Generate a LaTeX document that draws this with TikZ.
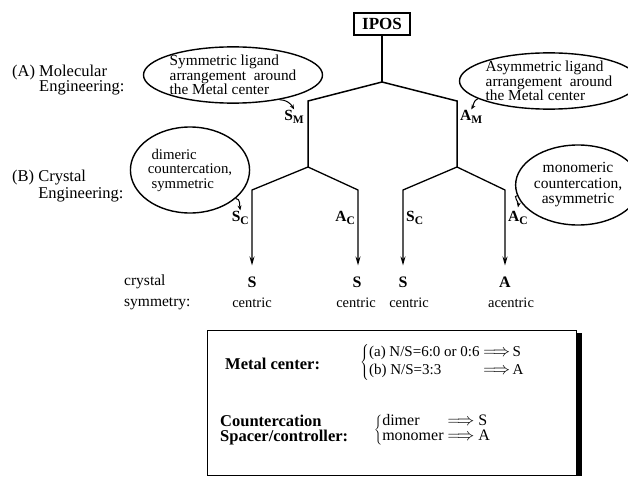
\documentclass[tikz,border=0pt]{standalone}
\usepackage{fontspec}
\setmainfont{Liberation Serif}
\usetikzlibrary{positioning,arrows.meta,shapes.geometric,calc}

\newcommand{\brlab}[2]{#1\raisebox{-0.35ex}{\fontsize{11.5}{11.5}\selectfont #2}}
\newcommand{\impl}{\mbox{\fontsize{17}{17}\selectfont$\Longrightarrow$}}

\begin{document}
\begin{tikzpicture}[x=1pt,y=-1pt,
    br/.style={line width=1.5pt, line join=miter},
    tr/.style={-{Stealth[length=9pt,width=5pt]}, line width=1.3pt, shorten >=1pt},
    cv/.style={-{Stealth[length=5pt,width=4pt]}, line width=1pt},
    bub/.style={draw, ellipse, line width=1.4pt, inner sep=0pt},
    lb/.style={font=\fontsize{15.5}{15.5}\selectfont\bfseries, inner sep=1pt},
    res/.style={font=\fontsize{16}{16}\selectfont\bfseries, inner sep=0pt},
    sym/.style={font=\fontsize{14.5}{14.5}\selectfont, inner sep=0pt},
    hd/.style={align=left, anchor=west, inner sep=0pt}]

  \useasboundingbox (0,0) rectangle (628,476);

  % top of the tree
  \node[draw, line width=1.3pt, font=\fontsize{17}{17}\selectfont\bfseries,
        minimum width=56pt, minimum height=22pt] (ipos) at (382,24) {IPOS};
  \coordinate (j0) at (382,82);
  \coordinate (jl) at (308,101);
  \coordinate (jr) at (457,101);
  \coordinate (kl) at (308,167);
  \coordinate (kr) at (457,167);
  \coordinate (ll) at (252,190);
  \coordinate (lr) at (358,190);
  \coordinate (rl) at (403,190);
  \coordinate (rr) at (505,190);

  % crystal symmetry results
  \node[res] (s1) at (252,282) {S};
  \node[res] (s2) at (357,282) {S};
  \node[res] (s3) at (403,282) {S};
  \node[res] (a4) at (505,282) {A};
  \node[sym] (c1) at (252,303) {centric};
  \node[sym] (c2) at (356,303) {centric};
  \node[sym] (c3) at (409,303) {centric};
  \node[sym] (c4) at (511,303) {acentric};

  % branches
  \draw[br] (ipos) -- (j0);
  \draw[br] (kl) -- (jl) -- (j0) -- (jr) -- (kr);
  \draw[tr] (kl) -- (ll) -- ($(ll |- s1.north)+(0,-10)$);
  \draw[tr] (kl) -- (lr) -- ($(lr |- s2.north)+(0,-10)$);
  \draw[tr] (kr) -- (rl) -- ($(rl |- s3.north)+(0,-10)$);
  \draw[tr] (kr) -- (rr) -- ($(rr |- a4.north)+(0,-10)$);

  % branch labels
  \node[lb, anchor=east] (sm) at (305,117) {\brlab{S}{M}};
  \node[lb, anchor=west] (am) at (459,117) {\brlab{A}{M}};
  \node[lb, anchor=east] (sc1) at (250,218) {\brlab{S}{C}};
  \node[lb, anchor=east] (ac1) at (356,218) {\brlab{A}{C}};
  \node[lb, anchor=west] (sc2) at (405,218) {\brlab{S}{C}};
  \node[lb, anchor=west] (ac2) at (507,218) {\brlab{A}{C}};

  % bubbles
  \node[bub, minimum width=158pt, minimum height=50pt, align=left,
        font=\fontsize{15.3}{14.5}\selectfont] (symb) at (233,75)
    {Symmetric ligand\\arrangement\ \ around\\the Metal center};
  \node[bub, minimum width=154pt, minimum height=52pt, align=left,
        font=\fontsize{15.3}{14.5}\selectfont] (asymb) at (549,81)
    {Asymmetric ligand\\arrangement\ \ around\\the Metal center};
  \node[bub, minimum width=88pt, minimum height=86pt, align=left,
        font=\fontsize{14.8}{14.5}\selectfont] (dimc) at (190,170)
    {\ dimeric\\countercation,\\\ symmetric};
  \node[bub, minimum width=94pt, minimum height=80pt, align=center,
        font=\fontsize{15.5}{15.5}\selectfont] (monoc) at (578,185)
    {monomeric\\countercation,\\asymmetric};

  \draw[cv] (symb.-28) to[out=0,in=120] (sm.north);
  \draw[cv] (asymb.194) to[out=200,in=60] (am.north);
  \draw[cv] (dimc.-32) to[out=0,in=100] (sc1.north);
  \draw[cv] (monoc.190) to[out=170,in=80] ($(ac2.north)+(0,-3)$);

  % row titles
  \node[hd, font=\fontsize{16.5}{15}\selectfont] (molec) at (12,80)
    {(A) Molecular\\\phantom{(A) }Engineering:};
  \node[hd, font=\fontsize{16.5}{17}\selectfont] (cryst) at (12,186)
    {(B) Crystal\\\phantom{(B) }Engineering:};
  \node[hd, font=\fontsize{15.5}{21}\selectfont] (crsym) at (124,292)
    {crystal\\symmetry:};

  % key box
  \draw[line width=1pt] (207,330) rectangle (576,475);
  \fill (577,333) rectangle (582,476);

  \node[hd, font=\fontsize{16.5}{17}\selectfont\bfseries] (metal) at (225,364)
    {Metal center:};
  \node[hd, font=\fontsize{15}{18}\selectfont] (metrule) at (360,362)
    {$\left\{\begin{tabular}{@{}l@{\ }l@{}}(a) N/S=6:0 or 0:6 & \impl\,S\\
      (b) N/S=3:3 & \impl\,A\end{tabular}\right.$};
  \node[hd, font=\fontsize{16.5}{15}\selectfont\bfseries] (count) at (220,430)
    {Countercation\\Spacer/controller:};
  \node[hd, font=\fontsize{16}{15}\selectfont] (cntrule) at (374,430)
    {$\left\{\begin{tabular}{@{}l@{\ }l@{}}dimer & \impl\ S\\
      monomer & \impl\ A\end{tabular}\right.$};
\end{tikzpicture}
\end{document}
